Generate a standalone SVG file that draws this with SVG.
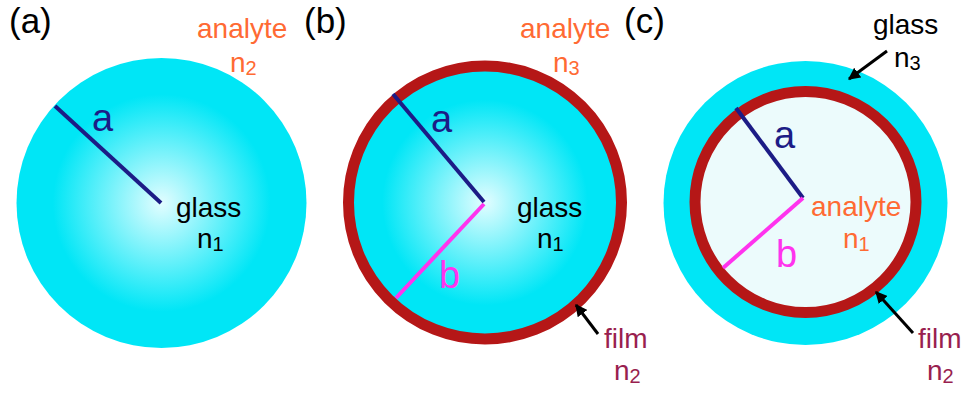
<svg xmlns="http://www.w3.org/2000/svg" width="968" height="396" viewBox="0 0 968 396">
<style>
text{font-family:"Liberation Sans",Arial,sans-serif;}
.lbl{font-size:35px;fill:#000;}
.t{font-size:28px;}
.sub{font-size:20px;}
.blk{fill:#000;}
.org{fill:#ff6a33;}
.film{fill:#991f4f;}
.big{font-size:38px;}
.navy{fill:#1c1c86;}
.mag{fill:#ff33ee;}
.ra{stroke:#1c1c86;stroke-width:4;fill:none;}
.rb{stroke:#ff33ee;stroke-width:4;fill:none;}
.ring{fill:none;stroke:#b51717;stroke-width:11;}
.arr{stroke:#000;stroke-width:3;fill:none;marker-end:url(#ah);}
</style>
<defs>
<radialGradient id="glassGrad" cx="0.5" cy="0.5" r="0.5">
<stop offset="0" stop-color="#e2fdff"/>
<stop offset="0.75" stop-color="#00e6f6"/>
<stop offset="1" stop-color="#00e6f6"/>
</radialGradient>
<marker id="ah" viewBox="0 0 10 10" refX="9" refY="5" markerWidth="4" markerHeight="4" orient="auto" markerUnits="strokeWidth">
<path d="M0,0 L10,5 L0,10 z" fill="#000"/>
</marker>
</defs>

<g id="panel-a">
<text class="lbl" x="9" y="33">(a)</text>
<circle cx="161.5" cy="203" r="145" fill="url(#glassGrad)"/>
<line class="ra" x1="55" y1="106" x2="161" y2="203"/>
<text class="big navy" x="92" y="131">a</text>
<text class="t blk" x="176" y="217">glass</text>
<text class="t blk" x="197" y="248">n<tspan class="sub" dy="3">1</tspan></text>
<text class="t org" x="197" y="38">analyte</text>
<text class="t org" x="230" y="72">n<tspan class="sub" dy="3">2</tspan></text>
</g>

<g id="panel-b">
<text class="lbl" x="304" y="33">(b)</text>
<circle cx="485" cy="202.5" r="137" fill="url(#glassGrad)"/>
<circle class="ring" cx="485" cy="202.5" r="136.5"/>
<line class="ra" x1="393" y1="94" x2="484" y2="202"/>
<line class="rb" x1="484" y1="204" x2="396" y2="298"/>
<text class="big navy" x="431" y="132">a</text>
<text class="big mag" x="439" y="288">b</text>
<text class="t blk" x="517" y="217">glass</text>
<text class="t blk" x="537" y="248">n<tspan class="sub" dy="3">1</tspan></text>
<text class="t org" x="520" y="38">analyte</text>
<text class="t org" x="553" y="72">n<tspan class="sub" dy="3">3</tspan></text>
<text class="t film" x="604" y="348">film</text>
<text class="t film" x="614" y="380">n<tspan class="sub" dy="3">2</tspan></text>
</g>

<g id="panel-c">
<text class="lbl" x="624" y="33">(c)</text>
<circle cx="805.5" cy="203" r="142" fill="#00e6f6"/>
<circle cx="805.5" cy="202" r="111" fill="#ecfbfc"/>
<circle class="ring" cx="805.5" cy="202" r="110.5"/>
<line class="ra" x1="736" y1="108" x2="803" y2="198"/>
<line class="rb" x1="803" y1="198" x2="723" y2="268"/>
<text class="big navy" x="774" y="148">a</text>
<text class="big mag" x="776" y="267">b</text>
<text class="t org" x="811" y="216">analyte</text>
<text class="t org" x="843" y="248">n<tspan class="sub" dy="3">1</tspan></text>
<text class="t blk" x="873" y="34">glass</text>
<text class="t blk" x="894" y="67">n<tspan class="sub" dy="3">3</tspan></text>
<text class="t film" x="918" y="348">film</text>
<text class="t film" x="927" y="380">n<tspan class="sub" dy="3">2</tspan></text>
</g>

<g id="connectors">
<line class="arr" x1="598" y1="334" x2="576" y2="305"/>
<line class="arr" x1="887" y1="51" x2="849" y2="79"/>
<line class="arr" x1="913" y1="333" x2="876" y2="292"/>
</g>
</svg>
